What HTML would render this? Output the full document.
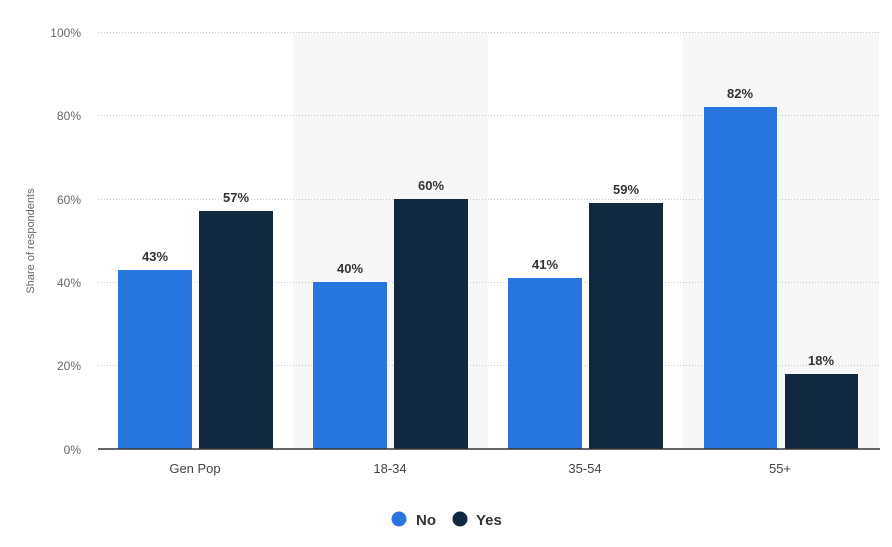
<!DOCTYPE html>
<html><head><style>body{margin:0;background:#fff}svg{display:block}</style></head><body>
<svg width="892" height="547" xmlns="http://www.w3.org/2000/svg" font-family="Liberation Sans, sans-serif">
<rect x="293" y="32" width="195" height="417" fill="#f7f7f7"/>
<rect x="683" y="32" width="196" height="417" fill="#f7f7f7"/>
<g stroke="#c8c8c8" stroke-dasharray="1,2" stroke-width="1">
<line x1="98" x2="880" y1="32.5" y2="32.5"/>
<line x1="98" x2="880" y1="115.5" y2="115.5"/>
<line x1="98" x2="880" y1="199.5" y2="199.5"/>
<line x1="98" x2="880" y1="282.5" y2="282.5"/>
<line x1="98" x2="880" y1="365.5" y2="365.5"/>
</g>
<g font-size="12" fill="#666" text-anchor="end">
<text x="81" y="37">100%</text><text x="81" y="120">80%</text><text x="81" y="204">60%</text>
<text x="81" y="287">40%</text><text x="81" y="370">20%</text><text x="81" y="454">0%</text>
</g>
<text transform="translate(34,241) rotate(-90)" font-size="11" fill="#666" text-anchor="middle">Share of respondents</text>
<g fill="#2876dd">
<rect x="118" y="270" width="74" height="179"/>
<rect x="313" y="282" width="74" height="167"/>
<rect x="508" y="278" width="74" height="171"/>
<rect x="704" y="107" width="73" height="342"/>
</g>
<g fill="#12283f">
<rect x="199" y="211" width="74" height="238"/>
<rect x="394" y="199" width="74" height="250"/>
<rect x="589" y="203" width="74" height="246"/>
<rect x="785" y="374" width="73" height="75"/>
</g>
<line x1="98" x2="880" y1="449" y2="449" stroke="#333" stroke-width="1.5"/>
<g font-size="13" font-weight="bold" fill="#333" text-anchor="middle">
<text x="155" y="261">43%</text><text x="236" y="202">57%</text>
<text x="350" y="273">40%</text><text x="431" y="190">60%</text>
<text x="545" y="269">41%</text><text x="626" y="194">59%</text>
<text x="740" y="98">82%</text><text x="821" y="365">18%</text>
</g>
<g font-size="13" fill="#444" text-anchor="middle">
<text x="195" y="473">Gen Pop</text><text x="390" y="473">18-34</text>
<text x="585" y="473">35-54</text><text x="780" y="473">55+</text>
</g>
<circle cx="399" cy="519" r="7.5" fill="#2876dd"/>
<text x="416" y="525" font-size="15" font-weight="bold" fill="#333">No</text>
<circle cx="460" cy="519" r="7.5" fill="#12283f"/>
<text x="476" y="525" font-size="15" font-weight="bold" fill="#333">Yes</text>
</svg>
</body></html>
